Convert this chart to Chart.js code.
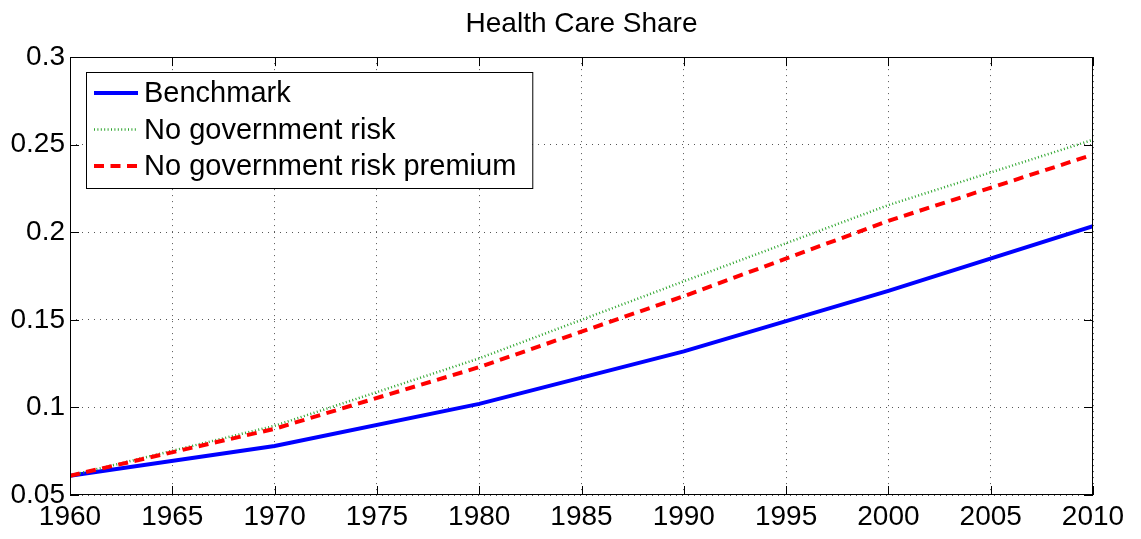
<!DOCTYPE html>
<html>
<head>
<meta charset="utf-8">
<script src="https://cdn.jsdelivr.net/npm/chart.js@4"></script>
<style>
  html, body { margin: 0; padding: 0; background: #fff; }
  #wrap { width: 1141px; height: 539px; }
</style>
</head>
<body>
<div id="wrap"><canvas id="c" width="1141" height="539"></canvas></div>
<script>
// ---- data ----
const years = [1960, 1970, 1980, 1990, 2000, 2010];
const benchmark = [0.061, 0.078, 0.102, 0.132, 0.1665, 0.2035];
const noGovRisk = [0.061, 0.0895, 0.128, 0.172, 0.2155, 0.2528];
const noGovRiskPremium = [0.061, 0.0878, 0.123, 0.1635, 0.2065, 0.2443];
const seriesNames = ['Benchmark', 'No government risk', 'No government risk premium'];
const xTickLabels = ['1960','1965','1970','1975','1980','1985','1990','1995','2000','2005','2010'];
const yTickLabels = ['0.05','0.1','0.15','0.2','0.25','0.3'];
const titleText = 'Health Care Share';

const FONT = "'Liberation Sans', Arial, Helvetica, sans-serif";

const frameAndLegend = {
  id: 'frameAndLegend',
  afterDraw(chart) {
    const ctx = chart.ctx;
    const a = chart.chartArea;
    const xs = chart.scales.x, ys = chart.scales.y;
    ctx.save();
    // box
    ctx.strokeStyle = '#000';
    ctx.lineWidth = 1;
    ctx.setLineDash([]);
    ctx.strokeRect(Math.round(a.left) + 0.5, Math.round(a.top) + 0.5,
                   Math.round(a.right - a.left) - 1, Math.round(a.bottom - a.top) - 1);
    // inward ticks
    const tl = 9;
    ctx.beginPath();
    xs.ticks.forEach(t => {
      const px = Math.round(xs.getPixelForValue(t.value)) + 0.5;
      ctx.moveTo(px, a.bottom); ctx.lineTo(px, a.bottom - tl);
      ctx.moveTo(px, a.top); ctx.lineTo(px, a.top + tl);
    });
    ys.ticks.forEach(t => {
      const py = Math.round(ys.getPixelForValue(t.value)) + 0.5;
      ctx.moveTo(a.left, py); ctx.lineTo(a.left + tl, py);
      ctx.moveTo(a.right, py); ctx.lineTo(a.right - tl, py);
    });
    ctx.stroke();

    // legend
    const lx = Math.round(a.left) + 16, ly = Math.round(a.top) + 15;
    ctx.font = '29px ' + FONT;
    let maxW = 0;
    chart.data.datasets.forEach(d => { maxW = Math.max(maxW, ctx.measureText(d.label).width); });
    const lw = 58 + maxW + 16, lh = 116;
    ctx.fillStyle = '#fff';
    ctx.fillRect(lx, ly, lw, lh);
    ctx.strokeStyle = '#000';
    ctx.lineWidth = 1;
    ctx.strokeRect(lx + 0.5, ly + 0.5, lw, lh);
    const rowY = [21, 57.5, 94];
    chart.data.datasets.forEach((d, i) => {
      const y = ly + rowY[i];
      ctx.save();
      ctx.strokeStyle = d.borderColor;
      ctx.lineWidth = d.borderWidth;
      ctx.setLineDash(d.borderDash || []);
      ctx.lineCap = 'butt';
      ctx.beginPath();
      ctx.moveTo(lx + 8, y); ctx.lineTo(lx + 52, y);
      ctx.stroke();
      ctx.restore();
      ctx.fillStyle = '#000';
      ctx.textBaseline = 'middle';
      ctx.textAlign = 'left';
      ctx.fillText(d.label, lx + 58, y + 1);
    });
    ctx.restore();
  }
};

new Chart(document.getElementById('c'), {
  type: 'line',
  data: {
    labels: years,
    datasets: [
      { label: seriesNames[0], data: benchmark, borderColor: '#0000ff', borderWidth: 4,
        pointRadius: 0, tension: 0, fill: false, order: 2 },
      { label: seriesNames[1], data: noGovRisk, borderColor: '#2ea52e', borderWidth: 2.5,
        borderDash: [1, 2.4], pointRadius: 0, tension: 0, fill: false, order: 1 },
      { label: seriesNames[2], data: noGovRiskPremium, borderColor: '#ff0000', borderWidth: 4,
        borderDash: [10, 6.5], pointRadius: 0, tension: 0, fill: false, order: 0 }
    ]
  },
  options: {
    responsive: false,
    animation: false,
    devicePixelRatio: 1,
    layout: { padding: { left: 0, right: 48, top: 0, bottom: 0 } },
    plugins: {
      legend: { display: false },
      tooltip: { enabled: false },
      title: {
        display: true,
        fullSize: false,
        text: titleText,
        color: '#000',
        font: { family: FONT, size: 28, weight: 'normal', lineHeight: 1.2 },
        padding: { top: 7, bottom: 16.5 }
      }
    },
    scales: {
      x: {
        type: 'linear',
        min: 1960, max: 2010,
        afterFit(s) { s.height = 44; },
        afterBuildTicks(s) { s.ticks = xTickLabels.map(v => ({ value: Number(v) })); },
        ticks: {
          autoSkip: false, maxRotation: 0, padding: 5, color: '#000',
          font: { family: FONT, size: 28 },
          callback: (v, i) => xTickLabels[i]
        },
        grid: { drawTicks: false, color: '#555', lineWidth: 1 },
        border: { display: false, dash: [1, 5] }
      },
      y: {
        min: 0.05, max: 0.3,
        afterFit(s) { s.width = 70; },
        afterBuildTicks(s) { s.ticks = yTickLabels.map(v => ({ value: Number(v) })); },
        ticks: {
          autoSkip: false, padding: 5, color: '#000',
          font: { family: FONT, size: 28 },
          callback: (v, i) => yTickLabels[i]
        },
        grid: { drawTicks: false, color: '#555', lineWidth: 1 },
        border: { display: false, dash: [1, 5] }
      }
    }
  },
  plugins: [frameAndLegend]
});
</script>
</body>
</html>
